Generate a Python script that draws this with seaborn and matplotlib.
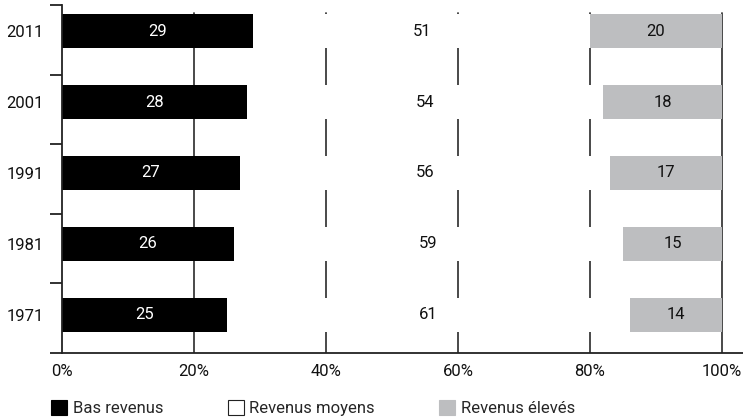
import numpy as np
import pandas as pd
import matplotlib
matplotlib.use("Agg")
import matplotlib.pyplot as plt
from matplotlib.patches import Patch
import seaborn as sns

# Income-group shares (%) per census year
years = ["2011", "2001", "1991", "1981", "1971"]
bas = [29, 28, 27, 26, 25]
moyens = [51, 54, 56, 59, 61]
eleves = [20, 18, 17, 15, 14]
series_names = ["Bas revenus", "Revenus moyens", "Revenus élevés"]
x_ticks = [0, 20, 40, 60, 80, 100]
x_tick_labels = [f"{t}%" for t in x_ticks]

BLACK = "#000000"
WHITE = "#ffffff"
GREY = "#bdbec0"
GRID = "#3a3a3a"

sns.set_theme(style="white")
plt.rcParams["font.family"] = ["Roboto", "DejaVu Sans"]
FS = 12

df = pd.DataFrame({"annee": years, "bas": bas, "moyens": moyens, "eleves": eleves})
df["cum_bas"] = df["bas"]
df["cum_moy"] = df["bas"] + df["moyens"]
df["cum_tot"] = df["cum_moy"] + df["eleves"]

fig = plt.figure(figsize=(7.43, 4.19), dpi=100)
ax = fig.add_axes([62 / 743, 66 / 419, 681 / 743, 348 / 419])

bar_w = 0.48
# stacked bars drawn back to front: full total, then low+middle, then low
sns.barplot(data=df, x="cum_tot", y="annee", order=years, color=GREY, width=bar_w,
            saturation=1, linewidth=0, ax=ax, zorder=2)
sns.barplot(data=df, x="cum_moy", y="annee", order=years, color=WHITE, width=bar_w,
            saturation=1, linewidth=0, ax=ax, zorder=2)
sns.barplot(data=df, x="cum_bas", y="annee", order=years, color=BLACK, width=bar_w,
            saturation=1, linewidth=0, ax=ax, zorder=2)

# segment values written in the middle of each segment
for i, row in df.iterrows():
    ax.text(row["bas"] / 2, i, f"{row['bas']}", ha="center", va="center",
            color="white", fontsize=FS, zorder=4)
    ax.text(row["bas"] + row["moyens"] / 2, i, f"{row['moyens']}", ha="center",
            va="center", color="#111111", fontsize=FS, zorder=4)
    ax.text(row["cum_moy"] + row["eleves"] / 2, i, f"{row['eleves']}", ha="center",
            va="center", color="#111111", fontsize=FS, zorder=4)

# vertical reference lines behind the bars
for t in x_ticks[1:]:
    ax.axvline(t, ymin=0, ymax=0.977, color=GRID, lw=1.3, zorder=1)

ax.set_xlim(0, 103.2)
ax.set_ylim(4.54, -0.37)
ax.set_xlabel("")
ax.set_ylabel("")
ax.set_xticks(x_ticks)
ax.set_xticklabels(x_tick_labels, fontsize=FS, color="#111111")
ax.tick_params(axis="x", length=0, pad=8)
ax.tick_params(axis="y", which="major", length=0, pad=13, labelsize=FS, labelcolor="#111111")
ax.set_yticks(np.linspace(-0.37, 4.54, 6), minor=True)
ax.tick_params(axis="y", which="minor", left=True, length=9, width=1.3, color="#222222",
               direction="out")
ax.grid(False)

for side in ["top", "right"]:
    ax.spines[side].set_visible(False)
for side in ["left", "bottom"]:
    ax.spines[side].set_color("#222222")
    ax.spines[side].set_linewidth(1.3)
    ax.spines[side].set_zorder(5)

handles = [
    Patch(facecolor=BLACK, edgecolor=BLACK, lw=0.8),
    Patch(facecolor=WHITE, edgecolor="#222222", lw=0.8),
    Patch(facecolor=GREY, edgecolor=GREY, lw=0.8),
]
fig.legend(handles, series_names, loc="lower left", bbox_to_anchor=(51 / 743, 3 / 419),
           bbox_transform=fig.transFigure, ncol=3, frameon=False, fontsize=FS,
           handlelength=0.96, handleheight=0.96, handletextpad=0.35,
           columnspacing=3.85, borderpad=0, borderaxespad=0)

fig.savefig("out.png", dpi=100)
